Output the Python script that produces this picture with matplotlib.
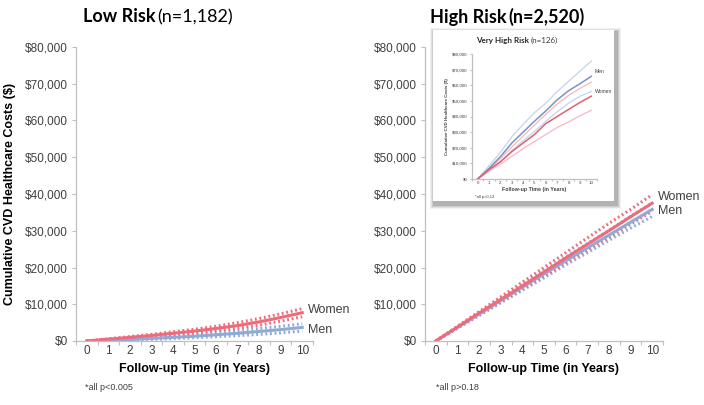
import matplotlib
matplotlib.use("Agg")
import matplotlib.pyplot as plt
from matplotlib.patches import Rectangle
from matplotlib.ticker import FuncFormatter, FixedLocator

years = [0, 1, 2, 3, 4, 5, 6, 7, 8, 9, 10]

# Low risk (n=1,182)
low_women = [0, 500, 1000, 1500, 2100, 2700, 3400, 4200, 5200, 6400, 7700]
low_women_hi = [0, 600, 1200, 1800, 2500, 3200, 4000, 5000, 6100, 7400, 8800]
low_women_lo = [0, 400, 800, 1200, 1700, 2200, 2800, 3500, 4300, 5400, 6600]
low_men = [0, 200, 400, 700, 1000, 1300, 1700, 2100, 2600, 3100, 3700]
low_men_hi = [0, 300, 600, 950, 1350, 1750, 2250, 2800, 3400, 4000, 4700]
low_men_lo = [0, 100, 250, 450, 650, 900, 1150, 1450, 1800, 2200, 2700]

# High risk (n=2,520)
high_women = [0, 3800, 7600, 11300, 15000, 18800, 22600, 26300, 30000, 33800, 37500]
high_women_hi = [0, 4000, 8000, 12000, 16000, 20000, 24000, 28000, 32000, 35800, 39800]
high_women_lo = [0, 3600, 7200, 10700, 14200, 17700, 21300, 24800, 28200, 31800, 35300]
high_men = [0, 3700, 7300, 11000, 14600, 18200, 21800, 25300, 28800, 32300, 35800]
high_men_hi = [0, 3900, 7700, 11500, 15300, 19100, 22800, 26500, 30100, 33900, 37600]
high_men_lo = [0, 3500, 6900, 10400, 13800, 17200, 20700, 24000, 27400, 30700, 33900]

# Very high risk inset (n=126)
vh_men = [0, 6800, 14300, 23000, 30000, 37000, 43600, 50700, 56500, 61000, 65700]
vh_men_hi = [0, 8500, 17000, 27000, 35000, 42500, 48500, 56000, 62500, 69000, 75500]
vh_men_lo = [0, 5000, 11000, 18000, 24500, 30500, 37000, 43000, 48500, 53000, 56000]
vh_women = [0, 6000, 11000, 17500, 23000, 28500, 35500, 40000, 44500, 49000, 53000]
vh_women_hi = [0, 6500, 13000, 20500, 27500, 34500, 41500, 48000, 53500, 58000, 62000]
vh_women_lo = [0, 5000, 9500, 14500, 19500, 24000, 28500, 33000, 36500, 40500, 44000]

RED = "#EE6B7A"
BLUE = "#8FAAD6"
RED_L = "#F7B7BF"
BLUE_L = "#C3D3EC"
GRAY = "#BFBFBF"
TXT = "#404040"

plt.rcParams["font.family"] = ["Liberation Sans", "DejaVu Sans"]

fig = plt.figure(figsize=(7.04, 4.05), dpi=100)
W, H = 704.0, 405.0


def px_axes(x0, y0, x1, y1, **kw):
    return fig.add_axes([x0 / W, 1 - y1 / H, (x1 - x0) / W, (y1 - y0) / H], **kw)


money = FuncFormatter(lambda v, p: "${:,.0f}".format(v))


def style(ax, fs, tl):
    ax.set_xlim(-0.5, 10.5)
    ax.set_ylim(0, 80000)
    ax.set_yticks(range(0, 80001, 10000))
    ax.yaxis.set_major_formatter(money)
    ax.set_xticks(years)
    ax.xaxis.set_minor_locator(FixedLocator([x - 0.5 for x in range(12)]))
    ax.tick_params(axis="x", which="major", length=0, labelsize=fs, colors=TXT, pad=3)
    ax.tick_params(axis="x", which="minor", length=tl, color=GRAY, width=0.8)
    ax.tick_params(axis="y", length=tl, color=GRAY, width=0.8, labelsize=fs,
                   labelcolor=TXT, pad=3)
    for s in ["top", "right"]:
        ax.spines[s].set_visible(False)
    for s in ["left", "bottom"]:
        ax.spines[s].set_color(GRAY)
        ax.spines[s].set_linewidth(0.9)
    ax.set_facecolor("none")


def panel(ax, w, w_hi, w_lo, m, m_hi, m_lo):
    ax.plot(years, m_hi, color=BLUE, ls=(0, (0.6, 0.9)), lw=2.2)
    ax.plot(years, m_lo, color=BLUE, ls=(0, (0.6, 0.9)), lw=2.2)
    ax.plot(years, w_hi, color=RED, ls=(0, (0.6, 0.9)), lw=2.2)
    ax.plot(years, w_lo, color=RED, ls=(0, (0.6, 0.9)), lw=2.2)
    ax.plot(years, m, color=BLUE, lw=2.2)
    ax.plot(years, w, color=RED, lw=2.2)


def title(ax, x, y, bold, rest, fs, rest_bold=False, gap=3, z=3, c1="black", c2="black"):
    t = fig.text(x / W, 1 - y / H, bold, fontsize=fs, fontweight="bold",
                 family="Lato", va="center", zorder=z, color=c1)
    ax.annotate(rest, xy=(1, 0.5), xycoords=t, xytext=(gap, 0),
                textcoords="offset points", va="center", ha="left", fontsize=fs,
                family="Lato", fontweight="bold" if rest_bold else "normal",
                zorder=z, color=c2, annotation_clip=False)


# Low risk panel
ax1 = px_axes(76, 47, 313, 341)
style(ax1, 8.5, 3)
panel(ax1, low_women, low_women_hi, low_women_lo, low_men, low_men_hi, low_men_lo)
ax1.set_xlabel("Follow-up Time (in Years)", fontsize=9, fontweight="bold", labelpad=4)
ax1.set_ylabel("Cumulative CVD Healthcare Costs ($)", fontsize=9, fontweight="bold",
               labelpad=6)
ax1.text(10.25, low_women[-1] + 600, "Women", fontsize=9, color=TXT, va="center")
ax1.text(10.25, low_men[-1] - 800, "Men", fontsize=9, color=TXT, va="center")
title(ax1, 83, 17, "Low Risk", "(n=1,182)", 13, gap=1.5)
fig.text(85 / W, 1 - 388 / H, "*all p<0.005", fontsize=6.5, color=TXT, va="center")

# High risk panel
ax2 = px_axes(425, 47, 663, 341)
style(ax2, 8.5, 3)
panel(ax2, high_women, high_women_hi, high_women_lo, high_men, high_men_hi, high_men_lo)
ax2.set_xlabel("Follow-up Time (in Years)", fontsize=9, fontweight="bold", labelpad=4)
ax2.text(10.25, high_women[-1] + 1800, "Women", fontsize=9, color=TXT, va="center")
ax2.text(10.25, high_men[-1] - 400, "Men", fontsize=9, color=TXT, va="center")
title(ax2, 430, 17, "High Risk", "(n=2,520)", 13, rest_bold=True, gap=1.5)
fig.text(436 / W, 1 - 388 / H, "*all p>0.18", fontsize=6.5, color=TXT, va="center")

# inset shadow + white box
for i, a in enumerate([0.05, 0.07, 0.09, 0.12]):
    g = 5 - i
    fig.patches.append(Rectangle(((433 - g + 2) / W, 1 - (201 + g + 3) / H),
                                 (181 + 2 * g) / W, (171 + 2 * g) / H,
                                 transform=fig.transFigure, facecolor="black",
                                 alpha=a, edgecolor="none", zorder=4))
box = px_axes(433, 30, 614, 201, zorder=5)
box.set_xticks([])
box.set_yticks([])
for s in box.spines.values():
    s.set_visible(False)
box.set_facecolor("white")

ax3 = px_axes(472, 54, 597, 179, zorder=6)
style(ax3, 3.2, 1.5)
ax3.tick_params(axis="x", pad=1.5)
ax3.tick_params(axis="y", pad=1.5)
for a in [vh_men_hi, vh_men_lo]:
    ax3.plot(years, a, color=BLUE_L, lw=0.9)
for a in [vh_women_hi, vh_women_lo]:
    ax3.plot(years, a, color=RED_L, lw=0.9)
ax3.plot(years, vh_men, color="#7A93BF", lw=1.1)
ax3.plot(years, vh_women, color="#E06070", lw=1.1)
ax3.text(10.3, vh_men[-1] + 3000, "Men", fontsize=3.6, color=TXT, va="center")
ax3.text(10.3, vh_women[-1] + 3000, "Women", fontsize=3.6, color=TXT, va="center")
ax3.set_xlabel("Follow-up Time (in Years)", fontsize=3.8, fontweight="bold",
               labelpad=1, color=TXT)
ax3.set_ylabel("Cumulative CVD Healthcare Costs ($)", fontsize=3.2, fontweight="bold",
               labelpad=2, color=TXT)
title(box, 476, 40, "Very High Risk", "(n=126)", 5.8, gap=1.5, z=7,
      c1="#262626", c2="#404040")
fig.text(475 / W, 1 - 197 / H, "*all p=0.12", fontsize=3, color=TXT, va="center",
         zorder=7)

fig.savefig("out.png", dpi=100)
